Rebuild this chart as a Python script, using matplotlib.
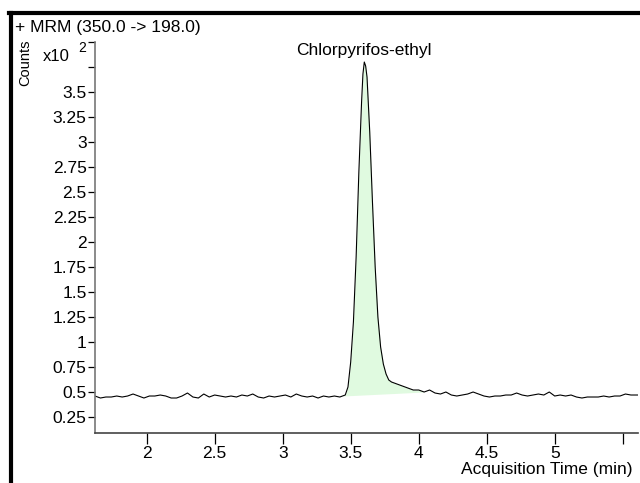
import numpy as np
import matplotlib
matplotlib.use("Agg")
import matplotlib.pyplot as plt
from matplotlib.lines import Line2D

plt.rcParams['font.family'] = ['Liberation Sans', 'DejaVu Sans']

# chromatogram trace, + MRM (350.0 -> 198.0), counts in units of 10^2
t_min = [1.62, 1.66, 1.70, 1.74, 1.78, 1.82, 1.86, 1.90, 1.94, 1.98,
         2.02, 2.06, 2.10, 2.14, 2.18, 2.22, 2.26, 2.30, 2.34, 2.38,
         2.42, 2.46, 2.50, 2.54, 2.58, 2.62, 2.66, 2.70, 2.74, 2.78,
         2.82, 2.86, 2.90, 2.94, 2.98, 3.02, 3.06, 3.10, 3.14, 3.18,
         3.22, 3.26, 3.30, 3.34, 3.38, 3.42,
         3.44, 3.46, 3.48, 3.50, 3.52, 3.54, 3.56, 3.58, 3.59, 3.60,
         3.61, 3.62, 3.64, 3.66, 3.68, 3.70, 3.72, 3.74, 3.76, 3.78,
         3.80, 3.84, 3.88, 3.92, 3.96, 4.00, 4.04,
         4.08, 4.12, 4.16, 4.20, 4.24, 4.28, 4.32, 4.36, 4.40, 4.44,
         4.48, 4.52, 4.56, 4.60, 4.64, 4.68, 4.72, 4.76, 4.80, 4.84,
         4.88, 4.92, 4.96, 5.00, 5.04, 5.08, 5.12, 5.16, 5.20, 5.24,
         5.28, 5.32, 5.36, 5.40, 5.44, 5.48, 5.52, 5.56, 5.60, 5.64]
counts = [0.46, 0.44, 0.45, 0.45, 0.46, 0.45, 0.46, 0.48, 0.46, 0.44,
          0.46, 0.46, 0.47, 0.46, 0.44, 0.44, 0.46, 0.49, 0.45, 0.44,
          0.48, 0.45, 0.47, 0.46, 0.45, 0.46, 0.45, 0.47, 0.46, 0.48,
          0.45, 0.44, 0.46, 0.45, 0.46, 0.47, 0.45, 0.48, 0.46, 0.45,
          0.46, 0.44, 0.46, 0.45, 0.46, 0.45,
          0.46, 0.47, 0.55, 0.80, 1.20, 1.85, 2.70, 3.40, 3.68, 3.80,
          3.76, 3.65, 3.10, 2.40, 1.75, 1.25, 0.95, 0.78, 0.68, 0.62,
          0.60, 0.58, 0.56, 0.54, 0.52, 0.52, 0.50,
          0.52, 0.49, 0.48, 0.50, 0.47, 0.46, 0.47, 0.48, 0.50, 0.48,
          0.46, 0.45, 0.46, 0.46, 0.47, 0.47, 0.49, 0.47, 0.46, 0.47,
          0.48, 0.47, 0.50, 0.46, 0.47, 0.46, 0.47, 0.45, 0.44, 0.45,
          0.45, 0.45, 0.46, 0.45, 0.46, 0.46, 0.48, 0.47, 0.47, 0.47]

peak_name = "Chlorpyrifos-ethyl"
peak_start, peak_end = 3.44, 4.04
y_ticks = [0.25, 0.5, 0.75, 1, 1.25, 1.5, 1.75, 2, 2.25, 2.5, 2.75, 3, 3.25, 3.5, 3.75, 4.0]
y_labels = ["0.25", "0.5", "0.75", "1", "1.25", "1.5", "1.75", "2", "2.25", "2.5",
            "2.75", "3", "3.25", "3.5", "", ""]
x_ticks = [2, 2.5, 3, 3.5, 4, 4.5, 5, 5.5]
x_labels = ["2", "2.5", "3", "3.5", "4", "4.5", "5", ""]

t = np.array(t_min)
c = np.array(counts)
fs = 12.5

fig = plt.figure(figsize=(6.4, 4.83), dpi=100)
ax = fig.add_axes([0.1484, 0.1035, 0.848, 0.8095])

# integrated peak area, baseline drawn from start to end point
m = (t >= peak_start) & (t <= peak_end)
base = np.interp(t[m], [peak_start, peak_end], [c[m][0], c[m][-1]])
ax.fill_between(t[m], c[m], base, color='#e0fae0', lw=0, zorder=1)
ax.plot(t, c, color='black', lw=0.8, zorder=2)
ax.text(3.6, 3.92, peak_name, ha='center', va='center', fontsize=fs)

ax.set_xlim(1.62, 5.61)
ax.set_ylim(0.09, 4.0)
ax.set_xticks(x_ticks)
ax.set_xticklabels(x_labels)
ax.set_yticks(y_ticks)
ax.set_yticklabels(y_labels)
ax.tick_params(axis='x', direction='out', length=8, width=0.9, pad=1, labelsize=fs)
ax.tick_params(axis='y', direction='out', length=5, width=0.9, pad=1, labelsize=fs)
for s in ['top', 'right']:
    ax.spines[s].set_visible(False)
ax.spines['left'].set_color('#777777')
ax.spines['bottom'].set_color('#444444')
ax.spines['left'].set_linewidth(1.2)
ax.spines['bottom'].set_linewidth(1.2)

# frame and header texts
fig.add_artist(Line2D([0.0172, 0.0172], [0.0, 0.9731], color='black', lw=3.0))
fig.add_artist(Line2D([0.0141, 1.0], [0.9731, 0.9731], color='black', lw=3.0))
fig.text(0.024, 0.944, "+ MRM (350.0 -> 198.0)", ha='left', va='center', fontsize=fs)
fig.text(0.040, 0.870, "Counts", rotation=90, ha='center', va='center', fontsize=10.5)
fig.text(0.067, 0.884, "x10", ha='left', va='center', fontsize=12)
fig.text(0.122, 0.901, "2", ha='left', va='center', fontsize=10)
fig.text(0.988, 0.027, "Acquisition Time (min)", ha='right', va='center', fontsize=fs)

fig.savefig("out.png", dpi=100)
